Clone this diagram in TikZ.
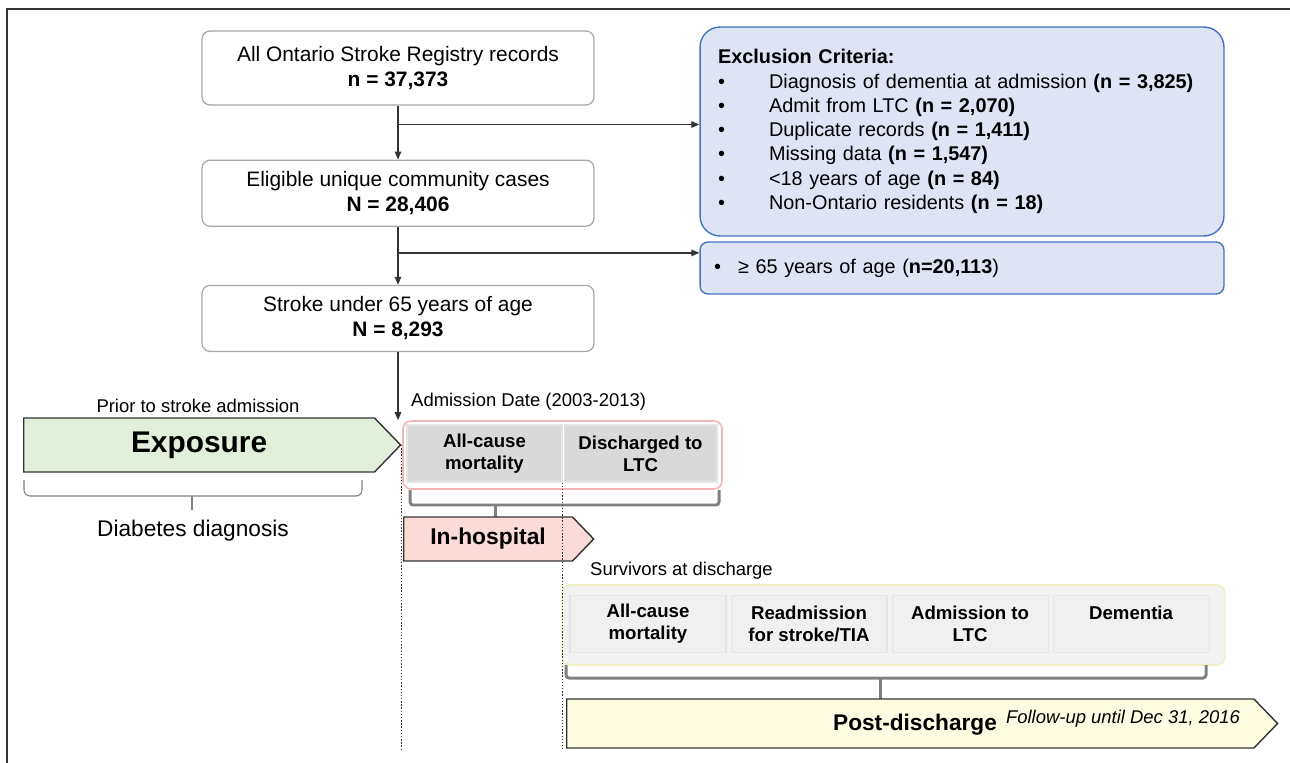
\documentclass[tikz,border=0pt]{standalone}
\usepackage{fontspec}
\setmainfont{Liberation Sans}
\usepackage{tikz}
\usetikzlibrary{arrows.meta, positioning, shapes.symbols, calc}
\usepackage{xcolor}
\definecolor{boxgray}{RGB}{166,166,166}
\definecolor{exclfill}{RGB}{222,228,243}
\definecolor{exclblue}{RGB}{68,114,196}
\definecolor{expgreen}{RGB}{226,239,218}
\definecolor{hospred}{RGB}{250,219,216}
\definecolor{hospline}{RGB}{242,182,182}
\definecolor{cellgray}{RGB}{217,217,217}
\definecolor{postyellow}{RGB}{255,253,225}
\definecolor{postline}{RGB}{240,240,196}
\definecolor{postback}{RGB}{243,243,243}
\definecolor{postcell}{RGB}{240,240,240}
\definecolor{bracegray}{RGB}{128,128,128}
\definecolor{inkgray}{RGB}{51,51,51}
\newcommand{\fsz}[2]{\fontsize{#1}{#2}\selectfont}
\newcommand{\exitem}[1]{\makebox[1.02cm][l]{\textbullet}#1}

\begin{document}
\begin{tikzpicture}[
    x=0.02cm, y=-0.02cm,
    node distance=1.08cm and 0.08cm,
    stage/.style={rectangle, rounded corners=0.16cm, draw=boxgray, line width=0.7pt,
                  minimum width=7.84cm, minimum height=1.32cm, align=center, font=\fsz{11.9}{14.2}},
    excl/.style={rectangle, draw=exclblue, fill=exclfill, line width=0.8pt,
                 align=left, font=\fsz{11.3}{13.8}},
    arr/.style={-{Triangle[length=0.16cm, width=0.13cm]}, line width=0.7pt, inkgray},
    phase/.style={signal, signal to=east, signal pointer angle=92, draw=inkgray,
                  line width=0.8pt, fill=#1, inner sep=0pt},
    group/.style={rectangle, rounded corners=0.16cm, line width=0.9pt, draw=#1},
    cell/.style={rectangle, fill=#1, draw=white!90!black, line width=0.6pt,
                 minimum height=1.14cm, align=center, font=\bfseries\fsz{10.6}{12.5}},
    note/.style={font=\fsz{10.5}{12.6}},
    brace/.style={bracegray, line width=1.7pt, rounded corners=0.06cm},
    hairbrace/.style={bracegray, line width=0.6pt, rounded corners=0.12cm},
    timeline/.style={densely dotted, line width=0.8pt, inkgray},
]
    \useasboundingbox (0,0) rectangle (1290,763);
    \draw[inkgray, line width=0.05cm] (7,763) -- (7,9) -- (1290,9);

    % Flow of cases
    \node[stage, minimum height=1.48cm] (rec) at (398,68)
        {All Ontario Stroke Registry records\\\textbf{n = 37,373}};
    \node[stage, below=1.08cm of rec] (elig)
        {Eligible unique community cases\\\textbf{N = 28,406}};
    \node[stage, below=1.16cm of elig] (under)
        {Stroke under 65 years of age\\\textbf{N = 8,293}};

    % Exclusions
    \node[excl, rounded corners=0.4cm, text width=9.76cm, inner xsep=0.36cm,
          minimum height=4.18cm] (crit) at (962,131.5)
        {\textbf{Exclusion Criteria:}\\
         \exitem{Diagnosis of dementia at admission \textbf{(n = 3,825)}}\\
         \exitem{Admit from LTC \textbf{(n = 2,070)}}\\
         \exitem{Duplicate records \textbf{(n = 1,411)}}\\
         \exitem{Missing data \textbf{(n = 1,547)}}\\
         \exitem{<18 years of age \textbf{(n = 84)}}\\
         \exitem{Non-Ontario residents \textbf{(n = 18)}}};
    \node[excl, rounded corners=0.16cm, text width=9.92cm, inner xsep=0.28cm,
          minimum height=1.04cm] (older) at (962,268)
        {\makebox[0.48cm][l]{\textbullet}≥ 65 years of age (\textbf{n=20,113})};

    % Wiring
    \coordinate (split1) at ($(rec.south)!0.35!(elig.north)$);
    \coordinate (split2) at ($(elig.south)!0.45!(under.north)$);
    \draw[arr] (rec.south) -- (elig.north);
    \draw[arr] (split1) -- (split1 -| crit.west);
    \draw[arr] (elig.south) -- (under.north);
    \draw[arr] (split2) -- (split2 -| older.west);

    % Exposure
    \node[note] (prior) at (198,406) {Prior to stroke admission};
    \node[phase=expgreen, minimum width=7.54cm, minimum height=1.08cm, anchor=west,
          font=\bfseries\fsz{17}{20}] (expo) at (23,445) {Exposure};
    \draw[hairbrace] (24,480) |- (362,496) -- (362,480);
    \draw[hairbrace] (192,496) -- (192,510);
    \node[font=\fsz{12.9}{15}] (diab) at (193,531) {Diabetes diagnosis};

    % In-hospital
    \node[note, anchor=west] (admit) at (405,402) {Admission Date (2003-2013)};
    \node[group=hospline, fill=white, minimum width=6.38cm, minimum height=1.36cm] (hosp) at (562.5,455) {};
    \node[cell=cellgray, minimum width=3.1cm] (hc1) at (484.5,453.5) {All-cause\\mortality};
    \node[cell=cellgray, minimum width=3.06cm, right=0.02cm of hc1] (hc2) {Discharged to\\LTC};
    \draw[arr] (under.south) -- (under.south |- hosp.north);
    \draw[brace] (410,490) |- (719,505) -- (719,490);
    \draw[brace] (495,505) -- (495,517);
    \node[phase=hospred, minimum width=3.8cm, minimum height=0.88cm, anchor=west,
          font=\bfseries\fsz{13}{15}] (inhosp) at (403,539) {In-hospital};

    % Post-discharge
    \node[note, anchor=west] (surv) at (584,571) {Survivors at discharge};
    \node[group=postline, fill=postback, minimum width=13.26cm, minimum height=1.6cm] (follow) at (893.5,625) {};
    \node[cell=postcell, minimum width=3.12cm] (pc1) at (648,624) {All-cause\\mortality};
    \node[cell=postcell, minimum width=3.12cm, right=of pc1] (pc2) {Readmission\\for stroke/TIA};
    \node[cell=postcell, minimum width=3.12cm, right=of pc2] (pc3) {Admission to\\LTC};
    \node[cell=postcell, minimum width=3.12cm, right=of pc3] (pc4) {Dementia\\~};
    \draw[brace] (566,665) |- (1206,678) -- (1206,665);
    \draw[brace] (880,678) -- (880,699);
    \node[phase=postyellow, minimum width=14.22cm, minimum height=0.98cm, anchor=west] (postd) at (566,723.5) {};
    \node[font=\bfseries\fsz{12.9}{15}] (postlab) at (915,725) {Post-discharge};
    \node[font=\itshape\fsz{10.5}{12.6}] (fup) at (1123,719) {Follow-up until Dec 31, 2016};

    % Time marks
    \draw[timeline] (expo.east) -- (expo.east |- postd.south);
    \draw[timeline] (hc1.south east) -- (hc1.south east |- postd.south);
\end{tikzpicture}
\end{document}
